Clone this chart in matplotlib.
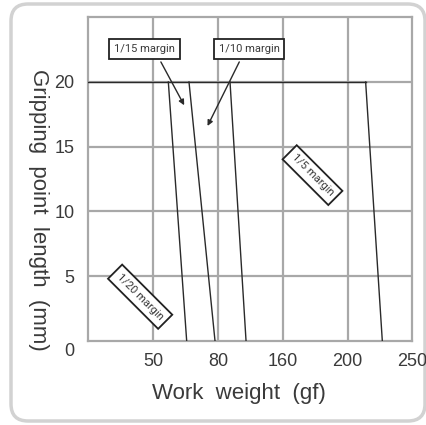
import matplotlib
matplotlib.use('Agg')
import matplotlib.pyplot as plt
from matplotlib.patches import FancyBboxPatch
import matplotlib.transforms as mtransforms

# category positions on the x axis (equal spacing)
x_labels = ['50', '80', '160', '200', '250']
x_pos = [1, 2, 3, 4, 5]
y_ticks = [0, 5, 10, 15, 20]

# limit lines: (x at length 20, x at length 0)
line_top_x = [1.235, 1.554, 2.187, 4.28]
line_bot_x = [1.518, 1.955, 2.434, 4.537]
hline_y = 20

labels = ['1/15 margin', '1/10 margin', '1/5 margin', '1/20 margin']
label_x = [0.864, 2.48, 3.46, 0.80]
label_y = [22.58, 22.58, 12.8, 3.4]
label_rot = [0, 0, -45, -45]

# arrows from labels to the regions
arrow_start = [(1.12, 21.55), (2.33, 21.55)]
arrow_end = [(1.48, 18.2), (1.84, 16.6)]

txt = '#3a3a3a'
grid_c = '#a8a8a8'
line_c = '#2a2a2a'
narrow = ['Roboto', 'DejaVu Sans']
plt.rcParams['font.family'] = ['Liberation Sans', 'DejaVu Sans']

fig = plt.figure(figsize=(4.27, 4.25), dpi=100)
# rounded frame around the whole chart
frame = FancyBboxPatch((11 / 427, 4 / 425), 414 / 427, 417 / 425,
                       boxstyle='round,pad=0,rounding_size=0.04',
                       transform=fig.transFigure, fc='white', ec='#d2d2d2', lw=2.5,
                       zorder=-5)
fig.patches.append(frame)

ax = fig.add_axes([88.3 / 427, 1 - 340.7 / 425, 324 / 427, 323.4 / 425])
ax.set_zorder(2)
ax.set_xlim(0, 5)
ax.set_ylim(0, 25)
ax.patch.set_alpha(0)

for s in ax.spines.values():
    s.set_color(grid_c)
    s.set_linewidth(1.6)

for xp in x_pos[:-1]:
    ax.axvline(xp, color=grid_c, lw=1.6, zorder=1)
for yv in y_ticks[1:]:
    ax.axhline(yv, color=grid_c, lw=1.6, zorder=1)

ax.set_xticks(x_pos)
ax.set_xticklabels(x_labels)
ax.set_yticks(y_ticks)
ax.set_yticklabels([str(v) for v in y_ticks])
ax.tick_params(length=0, labelsize=13, labelcolor=txt)
ax.tick_params(axis='x', pad=9)
ax.tick_params(axis='y', pad=10)
# the zero label sits a bit lower than the others
zl = ax.get_yticklabels()[0]
zl.set_transform(zl.get_transform() + mtransforms.ScaledTranslation(0, -9 / 100, fig.dpi_scale_trans))

# horizontal limit at 20 mm and the sloped limits
ax.plot([0, line_top_x[-1]], [hline_y, hline_y], color=line_c, lw=1.0, zorder=3)
for xt, xb in zip(line_top_x, line_bot_x):
    ax.plot([xt, xb], [hline_y, 0], color=line_c, lw=1.0, zorder=3)

for s, e in zip(arrow_start, arrow_end):
    ax.annotate('', xy=e, xytext=s,
                arrowprops=dict(arrowstyle='-|>', color=line_c, lw=1.0,
                                mutation_scale=8, shrinkA=0, shrinkB=0), zorder=4)

for t, lx, ly, r in zip(labels, label_x, label_y, label_rot):
    ax.text(lx, ly, t, ha='center', va='center', rotation=r, rotation_mode='anchor',
            fontsize=8, color=txt, family=narrow, zorder=5,
            bbox=dict(boxstyle='square,pad=0.45', fc='white', ec='#222222', lw=1.3))

fig.text(239 / 427, 1 - 394 / 425, 'Work  weight  (gf)', ha='center', va='center',
         fontsize=16, color=txt)
fig.text(38 / 427, 1 - 210 / 425, 'Gripping  point  length  (mm)', ha='center', va='center',
         rotation=-90, fontsize=16, color=txt)

fig.savefig('out.png', dpi=100)
